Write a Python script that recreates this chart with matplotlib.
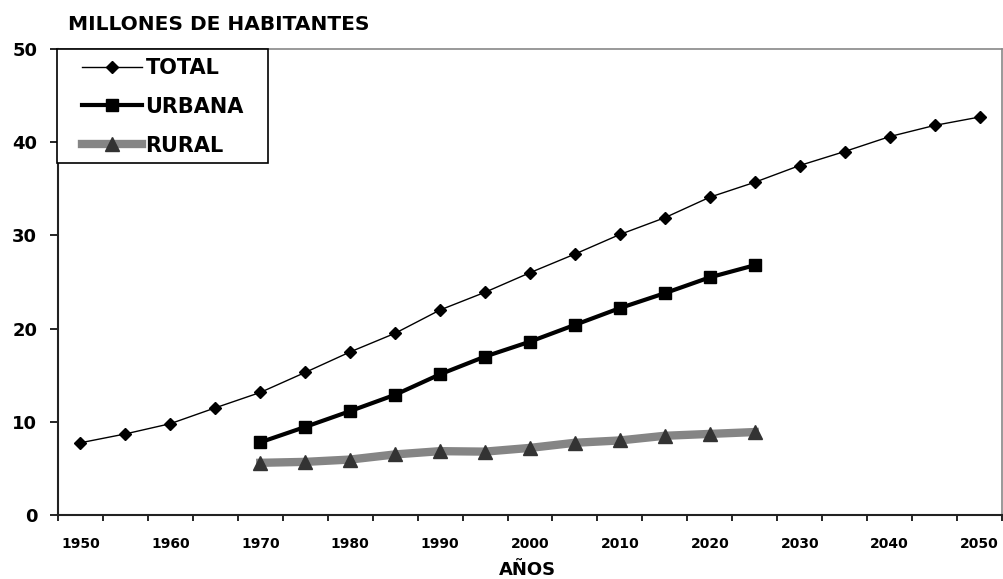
import matplotlib
matplotlib.use("Agg")
import matplotlib.pyplot as plt
from matplotlib.patches import Rectangle
import numpy as np

years = [1950, 1955, 1960, 1965, 1970, 1975, 1980, 1985, 1990, 1995, 2000,
         2005, 2010, 2015, 2020, 2025, 2030, 2035, 2040, 2045, 2050]
total = [7.75, 8.7, 9.8, 11.5, 13.15, 15.3, 17.5, 19.5, 22.0, 23.9, 26.0,
         28.0, 30.1, 31.9, 34.1, 35.7, 37.5, 39.0, 40.6, 41.8, 42.7]
urban_years = [1970, 1975, 1980, 1985, 1990, 1995, 2000, 2005, 2010, 2015, 2020, 2025]
urbana = [7.8, 9.45, 11.15, 12.9, 15.1, 17.0, 18.6, 20.4, 22.2, 23.8, 25.5, 26.8]
rural = [5.6, 5.7, 5.95, 6.5, 6.85, 6.8, 7.2, 7.75, 8.0, 8.5, 8.7, 8.9]
year_labels = [1950, 1960, 1970, 1980, 1990, 2000, 2010, 2020, 2030, 2040, 2050]

plt.rcParams["font.family"] = ["DejaVu Sans"]
plt.rcParams["font.weight"] = "bold"

W, H = 1004, 579
fig = plt.figure(figsize=(W / 100, H / 100), dpi=100)
ax = fig.add_axes([58 / W, 1 - 515 / H, 944 / W, 466 / H])

pos = {y: i for i, y in enumerate(years)}
x_total = [pos[y] for y in years]
x_urb = [pos[y] for y in urban_years]

ax.plot(x_total, total, color="black", linewidth=1.0, marker="D",
        markersize=6, label="TOTAL", zorder=4)
ax.plot(x_urb, urbana, color="black", linewidth=3.0, marker="s",
        markersize=9, label="URBANA", zorder=3)
ax.plot(x_urb, rural, color="#858585", linewidth=6.0, marker="^",
        markersize=10, markerfacecolor="#333333", markeredgecolor="#333333",
        label="RURAL", zorder=2)

ax.set_xlim(-0.5, len(years) - 0.5)
ax.set_ylim(0, 50)

# tick marks sit between categories, labels on every other category
ax.set_xticks(np.arange(-0.5, len(years), 1.0))
ax.set_xticklabels([])
ax.set_xticks([pos[y] for y in year_labels], minor=True)
ax.set_xticklabels([str(y) for y in year_labels], minor=True,
                   fontsize=10, fontweight="bold")
ax.tick_params(axis="x", which="major", length=4, width=1.2, direction="out")
ax.tick_params(axis="x", which="minor", length=0, pad=16)

ax.set_yticks([0, 10, 20, 30, 40, 50])
ax.tick_params(axis="y", length=6, width=1.2, direction="out", labelsize=13, pad=9)
for lab in ax.get_yticklabels():
    lab.set_fontweight("bold")

for side in ["left", "bottom"]:
    ax.spines[side].set_color("#222222")
    ax.spines[side].set_linewidth(1.5)
for side in ["top", "right"]:
    ax.spines[side].set_color("#888888")
    ax.spines[side].set_linewidth(1.2)

fig.text(68 / W, 1 - 24 / H, "MILLONES DE HABITANTES", fontsize=14.5,
         fontweight="bold", va="center", ha="left")
fig.text(527 / W, 1 - 570 / H, "AÑOS", fontsize=13,
         fontweight="bold", va="center", ha="center")

# legend box drawn separately so the inner padding can match
box = Rectangle((57 / W, 1 - 163 / H), 211 / W, 114 / H, transform=fig.transFigure,
                facecolor="white", edgecolor="black", linewidth=1.2,
                clip_on=False, zorder=5)
ax.add_patch(box)
leg = ax.legend(loc="upper left", bbox_to_anchor=(82 / W, 1 - 58 / H),
                bbox_transform=fig.transFigure, borderaxespad=0, borderpad=0,
                frameon=False, prop={"weight": "bold", "size": 15},
                handlelength=2.9, handletextpad=0.15, labelspacing=0.9)
leg.set_zorder(6)

fig.savefig("out.png", dpi=100, facecolor="white")
